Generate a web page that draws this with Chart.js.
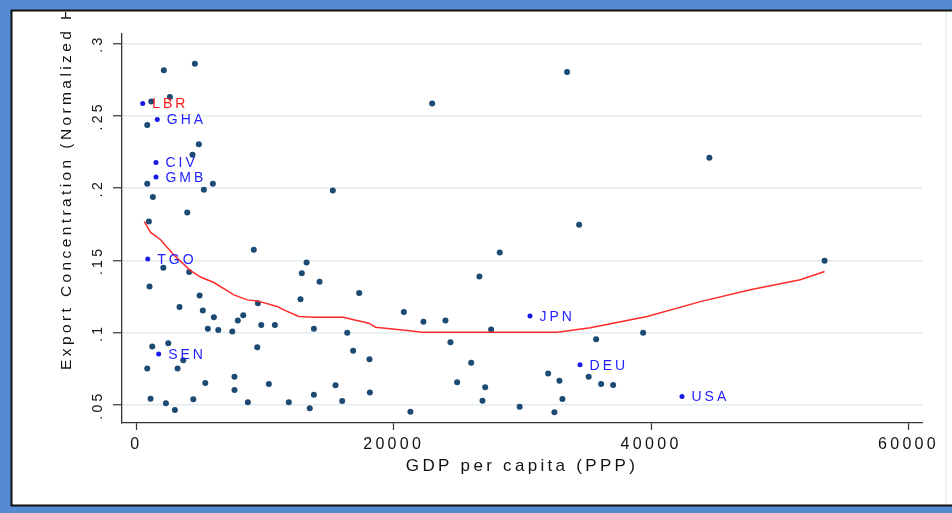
<!DOCTYPE html>
<html>
<head>
<meta charset="utf-8">
<script src="https://cdn.jsdelivr.net/npm/chart.js@4.4.1/dist/chart.umd.min.js"></script>
<style>
    html, body { margin: 0; padding: 0; background: #fff; }
    canvas { display: block; }
</style>
</head>
<body>
<canvas id="exportChart" width="952" height="513"></canvas>
<script>
// Countries (unlabelled): GDP per capita (PPP) and export concentration
const gdpPerCapita = [
    2140, 4550, 2610, 1165, 850, 4860, 4370, 850, 5950, 5250,
    1290, 3960, 980, 2100, 1030, 3360, 4920, 1240, 2485, 3650,
    850, 3210, 1110, 2300, 3000, 4430, 9130, 13230, 12860, 14240,
    12760, 4110, 5170, 6030, 7890, 8310, 9450, 5560, 6370, 7460,
    9710, 10770, 13800, 16390, 9400, 7630, 5360, 10300, 7630, 13800,
    15480, 16000, 8670, 11850, 13480, 17320, 28240, 26660, 20790, 22310,
    24020, 27570, 24410, 16850, 18120, 26020, 35730, 18150, 24930, 27110,
    32000, 32880, 35150, 36120, 37050, 33110, 26900, 21300, 29790, 32490,
    39380, 33470, 22990, 15270, 34410, 44530, 53480
];
const exportConc = [
    0.2815, 0.286, 0.263, 0.260, 0.2437, 0.2303, 0.223, 0.203, 0.203, 0.1989,
    0.1939, 0.1832, 0.177, 0.145, 0.132, 0.1177, 0.1257, 0.0904, 0.0927, 0.081,
    0.0752, 0.0752, 0.0544, 0.0512, 0.0465, 0.054, 0.1573, 0.1486, 0.1412, 0.1352,
    0.1232, 0.142, 0.1153, 0.1107, 0.1084, 0.1121, 0.1204, 0.1028, 0.1019, 0.1008,
    0.1054, 0.1054, 0.1028, 0.100, 0.090, 0.0696, 0.0652, 0.0645, 0.0604, 0.0571,
    0.0637, 0.0528, 0.0519, 0.0519, 0.0477, 0.1274, 0.1555, 0.1389, 0.1144, 0.1075,
    0.1084, 0.1022, 0.0934, 0.0876, 0.0817, 0.0793, 0.0955, 0.0586, 0.0658, 0.0623,
    0.0717, 0.0667, 0.0696, 0.0646, 0.0639, 0.0541, 0.053, 0.0454, 0.0488, 0.045,
    0.100, 0.2804, 0.2585, 0.1984, 0.1747, 0.221, 0.1497
];

// Labelled countries
const labelCountries = ['LBR', 'GHA', 'CIV', 'GMB', 'TGO', 'SEN', 'JPN', 'DEU', 'USA'];
const labelGdp = [500, 1630, 1530, 1530, 890, 1740, 30590, 34480, 42400];
const labelConc = [0.2585, 0.2474, 0.2178, 0.2077, 0.151, 0.0853, 0.1116, 0.0778, 0.0558];

// Lowess fit
const lowessGdp = [
    620, 1110, 1890, 2900, 3180, 4220, 4990, 6030, 7580, 8620,
    9400, 10950, 11460, 12630, 13800, 16120, 16640, 18070, 18590, 21050,
    22210, 28300, 32700, 35290, 39690, 43830, 47710, 51590, 53480
];
const lowessFit = [
    0.177, 0.1694, 0.1643, 0.1539, 0.1516, 0.1429, 0.1385, 0.1347, 0.1262, 0.1227,
    0.122, 0.1181, 0.1158, 0.1112, 0.1107, 0.1107, 0.1095, 0.1066, 0.1038, 0.1015,
    0.1003, 0.1003, 0.1003, 0.1035, 0.1112, 0.1215, 0.1297, 0.1366, 0.1423
];

// Axis ticks
const xTickValues = [0, 20000, 40000, 60000];
const yTickValues = [0.05, 0.1, 0.15, 0.2, 0.25, 0.3];

const yTitle = 'Export Concentration (Normalized Herfindahl Index)';
const xTitle = 'GDP per capita (PPP)';

const SPACING = '3.3px';
const FONT = "'Liberation Sans', Arial, sans-serif";

function toPoints(xs, ys) {
    return xs.map((x, i) => ({ x, y: ys[i] }));
}

function formatShare(v) {
    // .05 .1 .15 ... like Stata
    return v.toFixed(2).replace(/0$/, '').replace(/^0/, '');
}

// Blue frame, white panel, clipped y title and country labels
const framePlugin = {
    id: 'frame',
    beforeUpdate(chart) {
        chart.ctx.letterSpacing = SPACING;
    },
    beforeDraw(chart) {
        const ctx = chart.ctx;
        ctx.letterSpacing = SPACING;
        ctx.save();
        ctx.fillStyle = '#568bd3';
        ctx.fillRect(0, 0, chart.width, chart.height);
        ctx.fillStyle = '#ffffff';
        ctx.fillRect(12, 11, chart.width - 12, 494);
        ctx.strokeStyle = '#111';
        ctx.lineWidth = 2;
        ctx.beginPath();
        ctx.moveTo(chart.width, 10.5);
        ctx.lineTo(11.5, 10.5);
        ctx.lineTo(11.5, 505.5);
        ctx.lineTo(chart.width, 505.5);
        ctx.stroke();
        ctx.strokeStyle = '#e6ecef';
        ctx.lineWidth = 1.5;
        ctx.beginPath();
        ctx.moveTo(946, 12);
        ctx.lineTo(946, 504);
        ctx.stroke();
        ctx.restore();
    },
    afterDatasetsDraw(chart) {
        const ctx = chart.ctx;
        const meta = chart.getDatasetMeta(1);
        ctx.save();
        ctx.font = '14px ' + FONT;
        ctx.letterSpacing = '3px';
        ctx.textAlign = 'left';
        ctx.textBaseline = 'middle';
        meta.data.forEach((pt, i) => {
            ctx.fillStyle = labelCountries[i] === 'LBR' ? '#ff1a1a' : '#1f1fff';
            ctx.fillText(labelCountries[i], pt.x + 9.5, pt.y + 1);
        });
        ctx.restore();
    },
    afterDraw(chart) {
        const ctx = chart.ctx;
        ctx.save();
        ctx.beginPath();
        ctx.rect(13, 12, chart.width - 13, 492);
        ctx.clip();
        ctx.translate(71, 370);
        ctx.rotate(-Math.PI / 2);
        ctx.font = '15.5px ' + FONT;
        ctx.letterSpacing = '3.4px';
        ctx.fillStyle = '#111';
        ctx.textAlign = 'left';
        ctx.textBaseline = 'alphabetic';
        ctx.fillText(yTitle, 0, 0);
        ctx.restore();
    }
};

const ctx = document.getElementById('exportChart').getContext('2d');

new Chart(ctx, {
    data: {
        datasets: [
            {
                type: 'line',
                label: 'lowess',
                data: toPoints(lowessGdp, lowessFit),
                borderColor: '#ff2a2a',
                borderWidth: 1.5,
                pointRadius: 0,
                tension: 0,
                fill: false,
                order: 0
            },
            {
                type: 'scatter',
                label: 'labelled',
                data: toPoints(labelGdp, labelConc),
                backgroundColor: '#1a1ae6',
                borderWidth: 0,
                pointRadius: 2.5,
                order: 1
            },
            {
                type: 'scatter',
                label: 'countries',
                data: toPoints(gdpPerCapita, exportConc),
                backgroundColor: '#1d4a72',
                borderWidth: 0,
                pointRadius: 3,
                order: 2
            }
        ]
    },
    options: {
        responsive: false,
        devicePixelRatio: 1,
        animation: false,
        layout: {
            autoPadding: false,
            padding: { left: 12, top: 34, right: 30, bottom: 8 }
        },
        plugins: {
            legend: { display: false },
            tooltip: { enabled: false }
        },
        scales: {
            x: {
                type: 'linear',
                min: -1110,
                max: 61050,
                afterFit: s => { s.height = 82; },
                afterBuildTicks: s => { s.ticks = xTickValues.map(value => ({ value })); },
                grid: {
                    drawOnChartArea: false,
                    drawTicks: true,
                    tickLength: 7,
                    tickColor: '#333',
                    tickWidth: 1.2
                },
                border: { color: '#333', width: 1.3 },
                ticks: {
                    maxRotation: 0,
                    autoSkip: false,
                    padding: 5,
                    color: '#111',
                    font: { family: FONT, size: 16 },
                    callback: v => String(Math.round(v))
                },
                title: {
                    display: true,
                    text: xTitle,
                    color: '#111',
                    font: { family: FONT, size: 17 },
                    padding: { top: 0, bottom: 28 }
                }
            },
            y: {
                type: 'linear',
                min: 0.03755,
                max: 0.3066,
                afterFit: s => { s.width = 110; },
                afterBuildTicks: s => { s.ticks = yTickValues.map(value => ({ value })); },
                grid: {
                    color: '#e3ecef',
                    lineWidth: 1.5,
                    drawTicks: true,
                    tickLength: 9,
                    tickColor: '#333',
                    tickWidth: 1.2
                },
                border: { color: '#333', width: 1.3 },
                ticks: {
                    minRotation: 90,
                    maxRotation: 90,
                    autoSkip: false,
                    crossAlign: 'center',
                    padding: 0,
                    color: '#111',
                    font: { family: FONT, size: 14 },
                    callback: v => formatShare(v)
                }
            }
        }
    },
    plugins: [framePlugin]
});
</script>
</body>
</html>
